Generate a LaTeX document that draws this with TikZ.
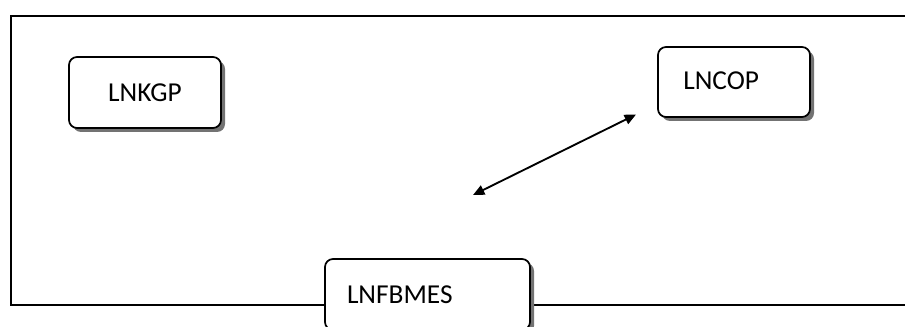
\documentclass[tikz,border=0pt]{standalone}
\usepackage{fontspec}
\setmainfont{Carlito}
\usetikzlibrary{shadows,arrows.meta}

\tikzset{
  unitbox/.style={draw, fill=white, rounded corners=6pt, line width=1.3pt,
    drop shadow={shadow xshift=3pt, shadow yshift=-3pt, fill=black!55, opacity=1},
    font=\fontsize{20.5}{24}\selectfont},
}

\begin{document}
\begin{tikzpicture}[x=0.75pt, y=-0.75pt, line width=1.4pt, >={Triangle[length=8.5pt,width=7.5pt]}]

\useasboundingbox (0,0) rectangle (905,327);
\clip (0,0) rectangle (905,327);

% frame
\draw (905,16)--(11,16)--(11,305)--(905,305);

\node[unitbox, minimum width=114pt, minimum height=53.25pt] (kgp) at (145,92.5) {LNKGP};
\node[unitbox, text width=76pt, inner xsep=19pt, align=left, minimum height=52.5pt] (cop) at (734,82) {\raisebox{2pt}{LNCOP}};
\node[unitbox, text width=120.75pt, inner xsep=16.5pt, align=left, minimum height=53.25pt] (fbmes) at (427.5,294.5) {LNFBMES};

\coordinate (a1) at (473,195);
\coordinate (a2) at (636,114.5);
\draw[<->] (a1)--(a2);

\end{tikzpicture}
\end{document}
